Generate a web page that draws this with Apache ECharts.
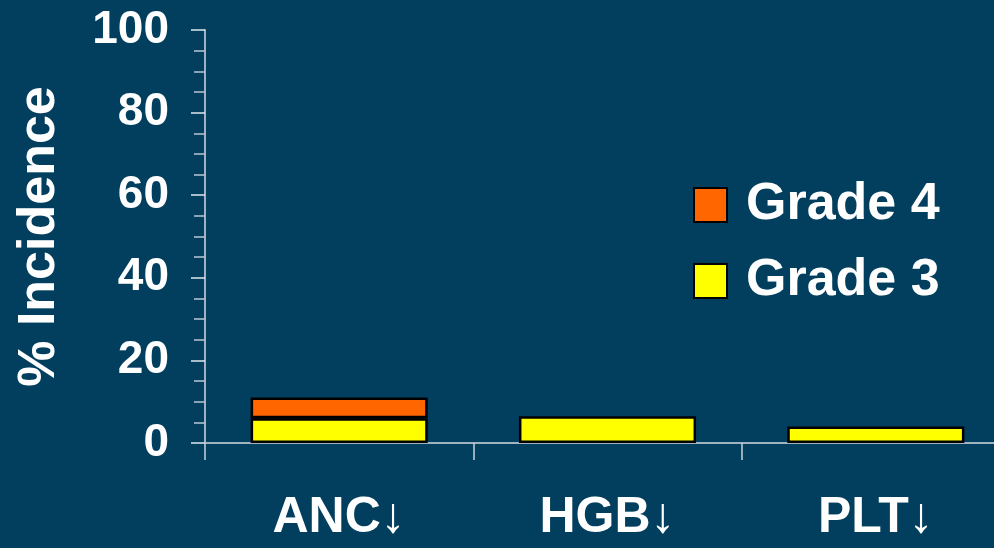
<!DOCTYPE html>
<html>
<head>
<meta charset="utf-8">
<script src="https://cdn.jsdelivr.net/npm/echarts@6/dist/echarts.min.js"></script>
<style>
html,body{margin:0;padding:0;background:#023f5e;overflow:hidden;width:994px;height:548px;}
#c{width:1016px;height:548px;}
</style>
</head>
<body>
<div id="c"></div>
<script>
var categories = ['ANC\u2193', 'HGB\u2193', 'PLT\u2193'];
var grade3 = [6, 6.5, 4];
var grade4 = [5, null, null];
var yTicks = [0, 20, 40, 60, 80, 100];

var chart = echarts.init(document.getElementById('c'));
var font = '"Liberation Sans", Arial, sans-serif';
chart.setOption({
  backgroundColor: '#023f5e',
  animation: false,
  grid: { left: 205, right: 6, top: 30, bottom: 105 },
  legend: {
    orient: 'vertical',
    left: 688,
    top: 174,
    itemWidth: 33,
    itemHeight: 34,
    itemGap: 24,
    icon: 'rect',
    data: ['Grade 4', 'Grade 3'],
    textStyle: { color: '#fff', fontSize: 52, fontWeight: 'bold', fontFamily: font, padding: [0, 0, 0, 14] }
  },
  xAxis: {
    type: 'category',
    data: categories,
    axisLine: { lineStyle: { color: '#9fb3c1', width: 2 } },
    axisTick: { show: true, length: 17, lineStyle: { color: '#c8d4dc', width: 1.5 } },
    axisLabel: { color: '#fff', fontSize: 50, fontWeight: 'bold', fontFamily: font, margin: 50 }
  },
  yAxis: {
    type: 'value',
    min: yTicks[0],
    max: yTicks[yTicks.length - 1],
    interval: 20,
    name: '% Incidence',
    nameLocation: 'middle',
    nameGap: 139,
    nameTextStyle: { color: '#fff', fontSize: 52, fontWeight: 'bold', fontFamily: font },
    axisLine: { show: true, lineStyle: { color: '#9fb3c1', width: 2 } },
    axisTick: { show: true, length: 14, lineStyle: { color: '#e0e8ee', width: 1.5 } },
    minorTick: { show: true, splitNumber: 4, length: 11, lineStyle: { color: '#b8c8d2', width: 1.5 } },
    splitLine: { show: false },
    axisLabel: { color: '#fff', fontSize: 46, fontWeight: 'bold', fontFamily: font, margin: 36 }
  },
  series: [
    {
      name: 'Grade 3', type: 'bar', stack: 'g', data: grade3, barWidth: '66%',
      itemStyle: { color: '#ffff00', borderColor: '#000', borderWidth: 2.5 }
    },
    {
      name: 'Grade 4', type: 'bar', stack: 'g', data: grade4, barWidth: '66%',
      itemStyle: { color: '#ff6600', borderColor: '#000', borderWidth: 2.5 }
    }
  ]
});
</script>
</body>
</html>
